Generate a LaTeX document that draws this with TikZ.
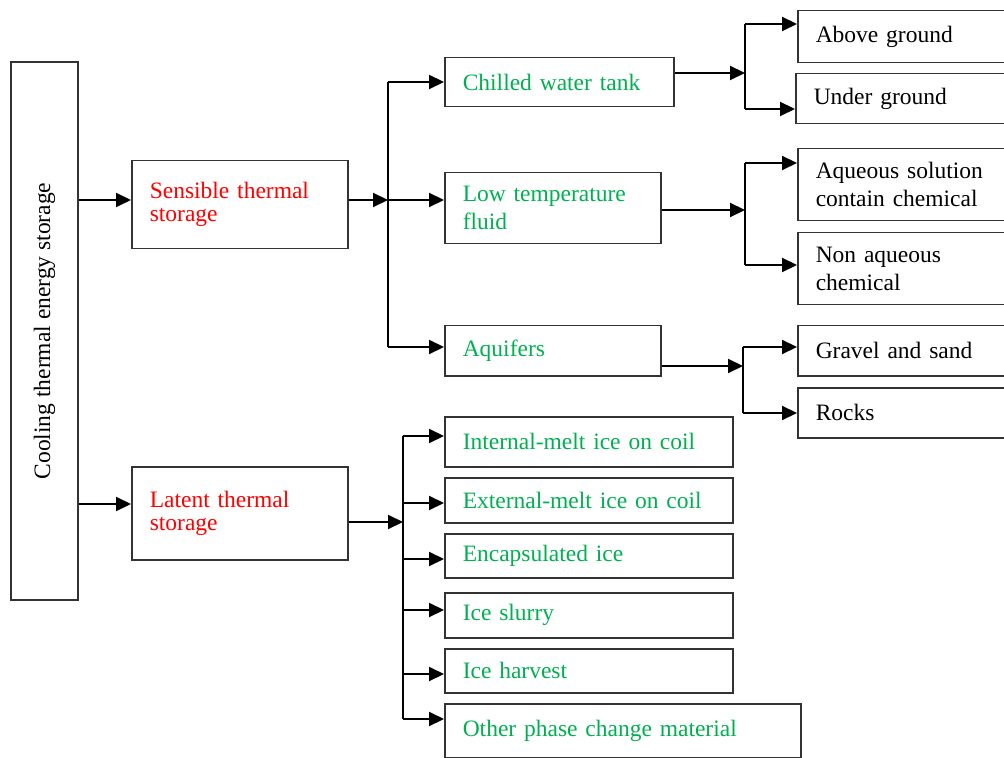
\documentclass[tikz,border=0pt]{standalone}
\usepackage{fontspec}
\setmainfont{Liberation Serif}
\usetikzlibrary{arrows.meta}
\definecolor{redtxt}{RGB}{255,0,0}
\definecolor{greentxt}{RGB}{0,176,80}
\begin{document}
\begin{tikzpicture}[x=0.5pt, y=-0.5pt,
      box/.style={draw=black!80, line width=0.75pt, anchor=north west,
        align=left, inner xsep=9pt, inner ysep=0pt,
        font=\fontsize{11.75}{14}\selectfont},
      redbox/.style={box, text=redtxt, font=\fontsize{11.75}{11.5}\selectfont},
      greenbox/.style={box, text=greentxt},
      arr/.style={line width=1pt, -{Triangle[length=7.5pt,width=7pt]}},
      trunk/.style={line width=1pt},
    ]
    \useasboundingbox (0,0) rectangle (1004,758);
    % root
    \node[draw=black!80, line width=0.75pt, rotate=90, minimum width=269pt,
      minimum height=33.5pt, inner sep=0pt, font=\fontsize{11.75}{14}\selectfont]
      (root) at (44.5,331) {Cooling thermal energy storage};
    % second level
    \node[redbox, text width=90pt, minimum height=44pt] (sens) at (131,160)
      {Sensible thermal\\storage};
    \node[redbox, text width=90pt, minimum height=46.5pt] (lat) at (131,466)
      {Latent thermal\\storage};
    % sensible branches
    \node[greenbox, text width=96.5pt, minimum height=24.5pt] (chill) at (444,57) {Chilled water tank};
    \node[greenbox, text width=90pt, minimum height=35.5pt] (low) at (444,172) {Low temperature\\fluid};
    \node[greenbox, text width=90pt, minimum height=25pt] (aqf) at (444,325) {Aquifers};
    % leaves
    \node[box, text width=89.5pt, minimum height=26pt] (above) at (797,10) {Above ground};
    \node[box, text width=90.5pt, minimum height=25pt] (under) at (795,73) {Under ground};
    \node[box, text width=89.5pt, minimum height=36pt] (aqs) at (797,148) {Aqueous solution\\contain chemical};
    \node[box, text width=89.5pt, minimum height=36pt] (nonaq) at (797,232) {Non aqueous\\chemical};
    \node[box, text width=89.5pt, minimum height=25pt] (grav) at (797,325) {Gravel and sand};
    \node[box, text width=89.5pt, minimum height=25pt] (rock) at (797,387) {Rocks};
    % latent branches
    \node[greenbox, text width=126pt, minimum height=25pt] (int) at (444,416) {Internal-melt ice on coil};
    \node[greenbox, text width=126pt, minimum height=22.5pt] (ext) at (444,477) {External-melt ice on coil};
    \node[greenbox, text width=126pt, minimum height=22pt] (enc) at (444,533) {Encapsulated ice};
    \node[greenbox, text width=126pt, minimum height=22.5pt] (slu) at (444,592) {Ice slurry};
    \node[greenbox, text width=126pt, minimum height=22pt] (har) at (444,648) {Ice harvest};
    \node[greenbox, text width=160pt, minimum height=27pt] (oth) at (444,703) {Other phase change material};

    % junction points
    \coordinate (j0) at (78,504);
    \coordinate (j1) at (388,200);
    \coordinate (t1a) at (388,82);
    \coordinate (t1b) at (388,347);
    \coordinate (j2) at (745,73);
    \coordinate (t2a) at (745,24);
    \coordinate (t2b) at (745,109);
    \coordinate (j3) at (745,210);
    \coordinate (t3a) at (745,163);
    \coordinate (t3b) at (745,265);
    \coordinate (j4) at (743,366);
    \coordinate (t4a) at (743,347);
    \coordinate (t4b) at (743,413);
    \coordinate (j5) at (403,522);
    \coordinate (t5a) at (403,436);
    \coordinate (t5b) at (403,719);

    % root to second level
    \draw[arr] (root.south |- j1) -- (sens.west |- j1);
    \draw[arr] (root.south |- j0) -- (lat.west |- j0);
    % sensible
    \draw[arr] (sens.east |- j1) -- (j1);
    \draw[trunk] (t1a) -- (t1b);
    \draw[arr] (t1a) -- (chill.west |- t1a);
    \draw[arr] (j1) -- (low.west |- j1);
    \draw[arr] (t1b) -- (aqf.west |- t1b);
    % chilled water tank
    \draw[arr] (chill.east |- j2) -- (j2);
    \draw[trunk] (t2a) -- (t2b);
    \draw[arr] (t2a) -- (above.west |- t2a);
    \draw[arr] (t2b) -- (under.west |- t2b);
    % low temperature fluid
    \draw[arr] (low.east |- j3) -- (j3);
    \draw[trunk] (t3a) -- (t3b);
    \draw[arr] (t3a) -- (aqs.west |- t3a);
    \draw[arr] (t3b) -- (nonaq.west |- t3b);
    % aquifers
    \draw[arr] (aqf.east |- j4) -- (j4);
    \draw[trunk] (t4a) -- (t4b);
    \draw[arr] (t4a) -- (grav.west |- t4a);
    \draw[arr] (t4b) -- (rock.west |- t4b);
    % latent
    \draw[arr] (lat.east |- j5) -- (j5);
    \draw[trunk] (t5a) -- (t5b);
    \foreach \n/\y in {int/436, ext/503, enc/559, slu/610, har/674, oth/719} {
      \coordinate (b\n) at (403,\y);
      \draw[arr] (b\n) -- (\n.west |- b\n);
    }
\end{tikzpicture}
\end{document}
